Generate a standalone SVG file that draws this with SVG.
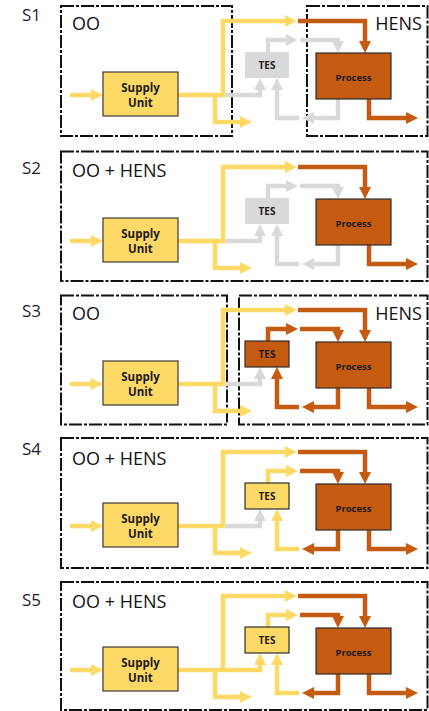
<svg xmlns="http://www.w3.org/2000/svg" width="429" height="711" viewBox="0 0 429 711">
<style>
.bg{fill:#fff}
.frame{fill:none;stroke:#111;stroke-width:2;stroke-dasharray:13 2 3 2}
.lbl{font-family:"Open Sans","Liberation Sans",sans-serif;font-size:17px;fill:#1e1e2e}
.ttl{font-family:"Open Sans","Liberation Sans",sans-serif;font-size:18px;fill:#111}
.ln{fill:none;stroke-width:4.5;stroke-linejoin:miter;stroke-linecap:butt}
.y{stroke:#FFD966}
.o{stroke:#C55A11}
.g{stroke:#D9D9D9}
.y.m{marker-end:url(#ay)}
.o.m{marker-end:url(#ao)}
.g.m{marker-end:url(#ag)}
.sup{fill:#FFD966;stroke:#3a3a3a;stroke-width:1.2}
.proc{fill:#C55A11;stroke:#2e2e2e;stroke-width:1.2}
.tesg{fill:#D9D9D9}
.teso{fill:#C55A11;stroke:#2e2e2e;stroke-width:1.2}
.tesy{fill:#FFD966;stroke:#2e2e2e;stroke-width:1.2}
.nt{font-family:"Open Sans","Liberation Sans",sans-serif;font-weight:bold;text-anchor:middle;fill:#1a1a1a}
.st{font-size:11.5px}
.pt{font-size:9.5px}
.tt{font-size:10px}
</style>
<defs>
<marker id="ay" markerUnits="userSpaceOnUse" markerWidth="12" markerHeight="12" viewBox="0 0 12 12" refX="0" refY="6" orient="auto" overflow="visible"><path d="M0,0 L12,6 L0,12 Z" fill="#FFD966"/></marker>
<marker id="ao" markerUnits="userSpaceOnUse" markerWidth="12" markerHeight="12" viewBox="0 0 12 12" refX="0" refY="6" orient="auto" overflow="visible"><path d="M0,0 L12,6 L0,12 Z" fill="#C55A11"/></marker>
<marker id="ag" markerUnits="userSpaceOnUse" markerWidth="12" markerHeight="12" viewBox="0 0 12 12" refX="0" refY="6" orient="auto" overflow="visible"><path d="M0,0 L12,6 L0,12 Z" fill="#D9D9D9"/></marker>
</defs>
<rect class="bg" x="0" y="0" width="429" height="711"/>

<!-- S1 -->
<g id="panel-s1">
<text class="lbl" x="22" y="21">S1</text>
<rect class="frame" x="61" y="6" width="171" height="130"/>
<rect class="frame" x="307" y="6" width="120.5" height="130"/>
<text class="ttl" x="72" y="30">OO</text>
<text class="ttl" x="422" y="30" text-anchor="end">HENS</text>
<g id="s1-connectors">
<path class="ln g m" d="M225.25,95 H260 V90"/>
<path class="ln g m" d="M268,52 V40 H286"/>
<path class="ln g m" d="M300,40 H338 V41"/>
<path class="ln g m" d="M338,99 V118 H314"/>
<path class="ln g m" d="M299,118 H277 V90"/>
<path class="ln o m" d="M298,21 H365 V41"/>
<path class="ln o m" d="M369,99 V118 H406"/>
<path class="ln y m" d="M70,95 H91"/>
<path class="ln y m" d="M215,95 V122 H240"/>
<path class="ln y m" d="M178,95 H223 V21 H285"/>
</g>
<g id="s1-supply"><rect class="sup" x="103" y="72" width="75" height="44"/><text class="nt st" x="140.5" y="91.5">Supply</text><text class="nt st" x="140.5" y="107">Unit</text></g>
<g id="s1-tes"><rect class="tesg" x="245" y="52" width="44" height="26"/><text class="nt tt" x="267" y="69" fill="#333">TES</text></g>
<g id="s1-process"><rect class="proc" x="316" y="53" width="75" height="46"/><text class="nt pt" x="353.5" y="80.5">Process</text></g>
</g>

<!-- S2 -->
<g id="panel-s2" transform="translate(0,146)">
<text class="lbl" x="22" y="28">S2</text>
<rect class="frame" x="61" y="5.5" width="366.5" height="129.5"/>
<text class="ttl" x="72" y="31">OO + HENS</text>
<g id="s2-connectors">
<path class="ln g m" d="M225.25,95 H260 V90"/>
<path class="ln g m" d="M268,52 V40 H286"/>
<path class="ln g m" d="M300,40 H338 V41"/>
<path class="ln g m" d="M338,99 V118 H314"/>
<path class="ln g m" d="M299,118 H277 V90"/>
<path class="ln o m" d="M298,21 H365 V41"/>
<path class="ln o m" d="M369,99 V118 H406"/>
<path class="ln y m" d="M70,95 H91"/>
<path class="ln y m" d="M215,95 V122 H240"/>
<path class="ln y m" d="M178,95 H223 V21 H285"/>
</g>
<g id="s2-supply"><rect class="sup" x="103" y="72" width="75" height="44"/><text class="nt st" x="140.5" y="91.5">Supply</text><text class="nt st" x="140.5" y="107">Unit</text></g>
<g id="s2-tes"><rect class="tesg" x="245" y="52" width="44" height="26"/><text class="nt tt" x="267" y="69" fill="#333">TES</text></g>
<g id="s2-process"><rect class="proc" x="316" y="53" width="75" height="46"/><text class="nt pt" x="353.5" y="80.5">Process</text></g>
</g>

<!-- S3 -->
<g id="panel-s3" transform="translate(0,289)">
<text class="lbl" x="22" y="28">S3</text>
<rect class="frame" x="61" y="6.5" width="166" height="129"/>
<rect class="frame" x="239" y="6.5" width="188.5" height="129"/>
<text class="ttl" x="72" y="31">OO</text>
<text class="ttl" x="422" y="31" text-anchor="end">HENS</text>
<g id="s3-connectors">
<path class="ln g m" d="M225.25,95 H260 V90"/>
<path class="ln o m" d="M268,52 V40 H286"/>
<path class="ln o m" d="M300,40 H338 V41"/>
<path class="ln o m" d="M338,99 V118 H314"/>
<path class="ln o m" d="M299,118 H277 V90"/>
<path class="ln o m" d="M298,21 H365 V41"/>
<path class="ln o m" d="M369,99 V118 H406"/>
<path class="ln y m" d="M70,95 H91"/>
<path class="ln y m" d="M215,95 V122 H240"/>
<path class="ln y m" d="M178,95 H223 V21 H285"/>
</g>
<g id="s3-supply"><rect class="sup" x="103" y="72" width="75" height="44"/><text class="nt st" x="140.5" y="91.5">Supply</text><text class="nt st" x="140.5" y="107">Unit</text></g>
<g id="s3-tes"><rect class="teso" x="245" y="52" width="44" height="26"/><text class="nt tt" x="267" y="69">TES</text></g>
<g id="s3-process"><rect class="proc" x="316" y="53" width="75" height="46"/><text class="nt pt" x="353.5" y="80.5">Process</text></g>
</g>

<!-- S4 -->
<g id="panel-s4" transform="translate(0,431)">
<text class="lbl" x="22" y="24">S4</text>
<rect class="frame" x="61" y="7" width="366.5" height="130"/>
<text class="ttl" x="72" y="34">OO + HENS</text>
<g id="s4-connectors">
<path class="ln g m" d="M225.25,95 H260 V90"/>
<path class="ln y m" d="M268,52 V40 H286"/>
<path class="ln o m" d="M300,40 H338 V41"/>
<path class="ln o m" d="M338,99 V118 H314"/>
<path class="ln y m" d="M299,118 H277 V90"/>
<path class="ln o m" d="M298,21 H365 V41"/>
<path class="ln o m" d="M369,99 V118 H406"/>
<path class="ln y m" d="M70,95 H91"/>
<path class="ln y m" d="M215,95 V122 H240"/>
<path class="ln y m" d="M178,95 H223 V21 H285"/>
</g>
<g id="s4-supply"><rect class="sup" x="103" y="72" width="75" height="44"/><text class="nt st" x="140.5" y="91.5">Supply</text><text class="nt st" x="140.5" y="107">Unit</text></g>
<g id="s4-tes"><rect class="tesy" x="245" y="52" width="44" height="26"/><text class="nt tt" x="267" y="69">TES</text></g>
<g id="s4-process"><rect class="proc" x="316" y="53" width="75" height="46"/><text class="nt pt" x="353.5" y="80.5">Process</text></g>
</g>

<!-- S5 -->
<g id="panel-s5" transform="translate(0,575)">
<text class="lbl" x="22" y="31">S5</text>
<rect class="frame" x="61" y="7" width="366.5" height="128"/>
<text class="ttl" x="72" y="33">OO + HENS</text>
<g id="s5-connectors">
<path class="ln y m" d="M225.25,95 H260 V90"/>
<path class="ln y m" d="M268,52 V40 H286"/>
<path class="ln o m" d="M300,40 H338 V41"/>
<path class="ln o m" d="M338,99 V118 H314"/>
<path class="ln y m" d="M299,118 H277 V90"/>
<path class="ln o m" d="M298,21 H365 V41"/>
<path class="ln o m" d="M369,99 V118 H406"/>
<path class="ln y m" d="M70,95 H91"/>
<path class="ln y m" d="M215,95 V122 H240"/>
<path class="ln y m" d="M178,95 H223 V21 H285"/>
</g>
<g id="s5-supply"><rect class="sup" x="103" y="72" width="75" height="44"/><text class="nt st" x="140.5" y="91.5">Supply</text><text class="nt st" x="140.5" y="107">Unit</text></g>
<g id="s5-tes"><rect class="tesy" x="245" y="52" width="44" height="26"/><text class="nt tt" x="267" y="69">TES</text></g>
<g id="s5-process"><rect class="proc" x="316" y="53" width="75" height="46"/><text class="nt pt" x="353.5" y="80.5">Process</text></g>
</g>
</svg>
